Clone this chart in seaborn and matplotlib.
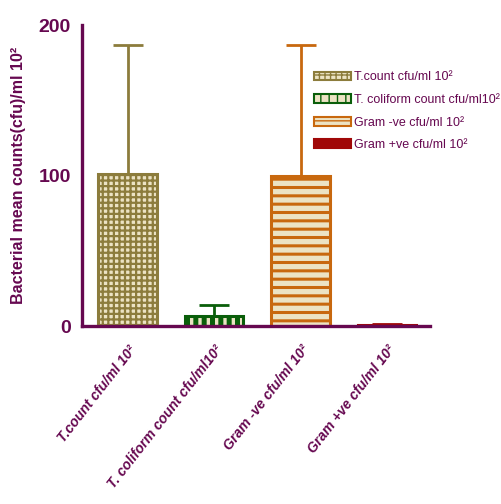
import matplotlib
matplotlib.use("Agg")
import matplotlib.pyplot as plt
import seaborn as sns
import pandas as pd
from matplotlib.patches import Patch

# Bacterial counts (mean and SD, cfu/ml x 10^2)
categories = ["T.count cfu/ml 10²", "T. coliform count cfu/ml10²",
              "Gram -ve cfu/ml 10²", "Gram +ve cfu/ml 10²"]
legend_labels = ["T.count cfu/ml 10²", "T. coliform count cfu/ml10²",
                 "Gram -ve cfu/ml 10²", "Gram +ve cfu/ml 10²"]
means = [101, 7, 100, 1]
sds = [86, 7, 87, 0.5]

edge_colors = ["#8c7c3c", "#0a5e0a", "#c8680e", "#a00808"]
fill_colors = ["#ece3c4", "#ece3c4", "#ece3c4", "#a00808"]
hatches = ["+++", "||", "--", ""]
hatch_widths = [1.6, 3.6, 2.2, 1.0]
purple = "#660850"

sns.set_style("white")
plt.rcParams["font.family"] = ["Liberation Sans", "DejaVu Sans"]


def style_hatch(patch, width):
    if hasattr(patch, "set_hatch_linewidth"):
        patch.set_hatch_linewidth(width)
    else:
        patch._hatch_linewidth = width


df = pd.DataFrame({"category": categories, "mean": means})

fig = plt.figure(figsize=(5.02, 5.04), dpi=100)
ax = fig.add_axes([0.163, 0.353, 0.694, 0.597])

sns.barplot(data=df, x="category", y="mean", hue="category",
            palette=fill_colors, legend=False, width=0.68, ax=ax,
            saturation=1)

for patch, ec, h, hw in zip(ax.patches, edge_colors, hatches, hatch_widths):
    patch.set_edgecolor(ec)
    patch.set_linewidth(2.2)
    patch.set_hatch(h)
    style_hatch(patch, hw)
    patch.set_zorder(3)

# Upper error bars only
for i, (m, s, c) in enumerate(zip(means, sds, edge_colors)):
    ax.errorbar(i, m, yerr=[[0], [s]], color=c, capsize=11, elinewidth=2,
                capthick=2, zorder=2)

ax.set_ylim(0, 200)
ax.set_xlim(-0.53, 3.5)
ax.set_yticks([0, 100, 200])

for side in ["top", "right"]:
    ax.spines[side].set_visible(False)
for side in ["left", "bottom"]:
    ax.spines[side].set_color(purple)
    ax.spines[side].set_linewidth(2.4)
    ax.spines[side].set_zorder(4)

ax.tick_params(axis="both", colors=purple, width=2.4, length=6, direction="out")
ax.tick_params(axis="y", labelsize=14, pad=2)
for lab in ax.get_yticklabels():
    lab.set_fontweight("bold")

ax.set_xticks(range(len(categories)))
ax.set_xticklabels(categories, rotation=52, ha="right", rotation_mode="anchor",
                   fontsize=10, fontweight="bold", fontstyle="italic", color=purple)
for lab in ax.get_xticklabels():
    lab.set_y(-0.012)
ax.set_xlabel("")
ax.set_ylabel("Bacterial mean counts(cfu)/ml 10²", fontsize=11.5, fontweight="bold",
              color=purple, labelpad=9)

handles = [Patch(facecolor=f, edgecolor=e, hatch=h, linewidth=1.5)
           for f, e, h in zip(fill_colors, edge_colors, hatches)]
leg = fig.legend(handles, legend_labels, loc="upper left",
                 bbox_to_anchor=(303 / 502, 1 - 60 / 504), frameon=False,
                 prop={"size": 9}, handlelength=2.9, handleheight=0.7,
                 labelspacing=0.85, handletextpad=0.25, labelcolor=purple)

fig.savefig("out.png", dpi=100)
